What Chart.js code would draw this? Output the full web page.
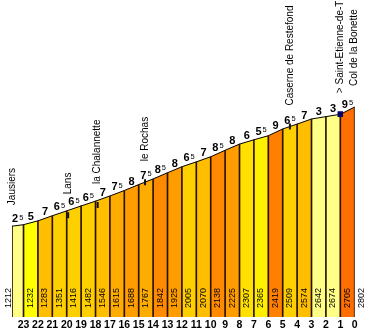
<!DOCTYPE html>
<html>
<head>
<meta charset="utf-8">
<script src="https://cdn.jsdelivr.net/npm/chart.js@4.4.1/dist/chart.umd.min.js"></script>
<style>
    html, body { margin: 0; padding: 0; background: #fff; }
    canvas { display: block; }
</style>
</head>
<body>
<canvas id="profileCanvas" width="366" height="331"></canvas>
<script>
// Col de la Bonette from Jausiers - climb profile

// km to the summit at each point, and the altitude there
const kmPoints = [23.8, 23, 22, 21, 20, 19, 18, 17, 16, 15, 14, 13, 12, 11, 10, 9, 8, 7, 6, 5, 4, 3, 2, 1, 0];
const altitudes = [1212, 1232, 1283, 1351, 1416, 1482, 1546, 1615, 1688, 1767, 1842, 1925, 2005, 2070, 2138, 2225, 2307, 2365, 2419, 2509, 2574, 2642, 2674, 2705, 2802];
// average gradient (%) of each segment
const gradients = [2.5, 5, 7, 6.5, 6.5, 6.5, 7, 7.5, 8, 7.5, 8.5, 8, 6.5, 7, 8.5, 8, 6, 5.5, 9, 6.5, 7, 3, 3, 9.5];
const kmTicks = [23, 22, 21, 20, 19, 18, 17, 16, 15, 14, 13, 12, 11, 10, 9, 8, 7, 6, 5, 4, 3, 2, 1, 0];

// places along the road
const placeNames = ['Jausiers', 'Lans', 'la Chalannette', 'le Rochas', 'Caserne de Restefond', '> Saint-Etienne-de-T', 'Col de la Bonette'];
const placeKm = [23.76, 19.9, 17.85, 14.56, 4.5, 1, 0];
const placeAlt = [1212, 1357, 1494, 1797, 2541, 2707, 2802];

const FONT = '"Liberation Sans", Arial, sans-serif';

function gradientColor(g) {
    if (g <= 3) return '#FFFF88';
    if (g < 5.5) return '#FFFF00';
    if (g < 6) return '#FFF000';
    if (g < 6.5) return '#FFE000';
    if (g < 7) return '#FFD000';
    if (g < 7.5) return '#FFBE00';
    if (g < 8) return '#FFAC00';
    if (g < 8.5) return '#FF9C00';
    if (g < 9) return '#FF8A00';
    if (g < 9.5) return '#FF8000';
    return '#FF6E00';
}

// Text on the profile: altitudes, gradients, place names
const profileLabels = {
    id: 'profileLabels',
    afterDatasetsDraw(chart) {
        const ctx = chart.ctx;
        const xs = chart.scales.x;
        const ys = chart.scales.y;
        ctx.save();
        ctx.fillStyle = '#000';

        // altitude written up each bar
        ctx.font = '9px ' + FONT;
        ctx.textAlign = 'left';
        ctx.textBaseline = 'middle';
        altitudes.forEach((alt, i) => {
            const px = xs.getPixelForValue(kmPoints[i]) + (i === 0 ? -3 : 7);
            ctx.save();
            ctx.translate(px, 308);
            ctx.rotate(-Math.PI / 2);
            ctx.fillText(String(alt), 0, 0);
            ctx.restore();
        });

        // gradient above each segment, half percent as a small 5
        ctx.textBaseline = 'alphabetic';
        gradients.forEach((g, i) => {
            const x0 = xs.getPixelForValue(kmPoints[i]);
            const x1 = xs.getPixelForValue(kmPoints[i + 1]);
            const y0 = ys.getPixelForValue(altitudes[i]);
            const y1 = ys.getPixelForValue(altitudes[i + 1]);
            const whole = String(Math.floor(g));
            const half = g % 1 ? '5' : '';
            ctx.font = 'bold 11px ' + FONT;
            const w1 = ctx.measureText(whole).width;
            ctx.font = '7.5px ' + FONT;
            const w2 = half ? ctx.measureText(half).width + 1 : 0;
            const left = (x0 + x1) / 2 - (w1 + w2) / 2;
            const base = (y0 + y1) / 2 - 3;
            ctx.font = 'bold 11px ' + FONT;
            ctx.fillText(whole, left, base);
            if (half) {
                ctx.font = '7.5px ' + FONT;
                ctx.fillText(half, left + w1 + 1, base - 2.5);
            }
        });

        // place names, vertical
        ctx.font = '10px ' + FONT;
        ctx.textBaseline = 'middle';
        placeNames.forEach((name, i) => {
            const px = xs.getPixelForValue(placeKm[i]);
            const py = ys.getPixelForValue(placeAlt[i]) - 21;
            ctx.save();
            ctx.translate(px, py);
            ctx.rotate(-Math.PI / 2);
            ctx.fillText(name, 0, 0);
            ctx.restore();
        });

        ctx.restore();
    }
};

function createProfileChart() {
    const canvas = document.getElementById('profileCanvas');
    const ctx = canvas.getContext('2d');
    const points = kmPoints.map((km, i) => ({ x: km, y: altitudes[i] }));

    new Chart(ctx, {
        type: 'line',
        data: {
            datasets: [
                {
                    // place markers
                    type: 'scatter',
                    data: placeKm.map((km, i) => ({ x: km, y: placeAlt[i] })),
                    pointStyle: ['line', 'line', 'line', 'line', 'line', 'rect', 'line'],
                    rotation: 90,
                    pointRadius: [0, 3, 3, 3, 3, 2.5, 0],
                    borderWidth: 2,
                    borderColor: ['#111', '#111', '#111', '#111', '#111', '#000066', '#111'],
                    backgroundColor: '#000066',
                    order: 0
                },
                {
                    // km dividers
                    type: 'bar',
                    data: points,
                    barThickness: 1,
                    backgroundColor: '#2a1200',
                    order: 1
                },
                {
                    // the profile itself
                    type: 'line',
                    data: points,
                    borderColor: '#000',
                    borderWidth: 1,
                    tension: 0,
                    pointRadius: 0,
                    fill: 'origin',
                    backgroundColor: gradientColor(gradients[0]),
                    segment: {
                        backgroundColor: c => gradientColor(gradients[c.p0DataIndex])
                    },
                    order: 2
                }
            ]
        },
        options: {
            responsive: false,
            animation: false,
            devicePixelRatio: 1,
            layout: { padding: { left: 12, right: 11.3, top: 0, bottom: 0 } },
            plugins: {
                legend: { display: false },
                tooltip: { enabled: false },
                filler: { drawTime: 'beforeDatasetsDraw' }
            },
            scales: {
                x: {
                    type: 'linear',
                    reverse: true,
                    min: 0,
                    max: 23.8,
                    offset: false,
                    grid: { display: false, drawTicks: false },
                    border: { display: false },
                    afterBuildTicks: scale => {
                        scale.ticks = kmTicks.map(v => ({ value: v }));
                    },
                    afterFit: scale => { scale.height = 14; },
                    ticks: {
                        autoSkip: false,
                        maxRotation: 0,
                        padding: 2,
                        color: '#000',
                        font: { family: FONT, size: 10.5, weight: 'bold' },
                        callback: v => String(v)
                    }
                },
                y: {
                    display: false,
                    min: 0,
                    max: 4150
                }
            }
        },
        plugins: [profileLabels]
    });
}

window.addEventListener('DOMContentLoaded', createProfileChart);
</script>
</body>
</html>
